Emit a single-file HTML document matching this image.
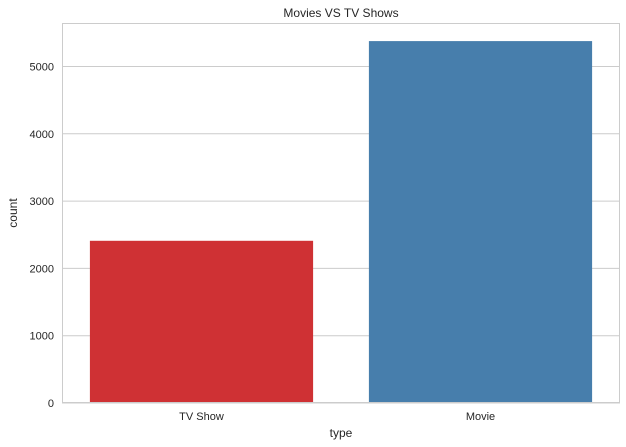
<!DOCTYPE html>
<html><head><meta charset="utf-8"><style>
html,body{margin:0;padding:0;background:#fff;}
svg{display:block;font-family:"Liberation Sans","DejaVu Sans",sans-serif;}
</style></head><body>
<svg id="chart" width="626" height="447"></svg>
<script>
const categories = ["TV Show", "Movie"];
const counts = [2410, 5377];
const colors = ["#cf3134", "#477eac"];
const yTicks = [0, 1000, 2000, 3000, 4000, 5000];

const NS = "http://www.w3.org/2000/svg";
const svg = document.getElementById("chart");
const L = 62, R = 620, T = 23, B = 403;
const yMax = Math.max(...counts) * 1.05;
const y = v => B - (v / yMax) * (B - T);
const band = (R - L) / categories.length;
const x = i => L + band * i;

function mk(tag, attrs, text) {
  const e = document.createElementNS(NS, tag);
  for (const k in attrs) e.setAttribute(k, attrs[k]);
  if (text !== undefined) e.textContent = text;
  svg.appendChild(e);
  return e;
}

yTicks.forEach(t => {
  const g = mk("line", {x1: L, x2: R, y1: y(t), y2: y(t), stroke: "#cccccc", "stroke-width": 1});
  
  
  const lb = mk("text", {x: L - 8, y: y(t) + 4, "text-anchor": "end", "font-size": 11, fill: "#262626"}, t);
  
  
});

categories.forEach((c, i) => {
  const w = band * 0.8;
  const r = mk("rect", {x: x(i) + band * 0.1, y: y(counts[i]), width: w, height: B - y(counts[i]), fill: colors[i]});
  
  
  const lb = mk("text", {x: x(i) + band / 2, y: B + 17, "text-anchor": "middle", "font-size": 11, fill: "#262626"}, c);
  
  
});

const fr = mk("rect", {x: L + 0.5, y: T + 0.5, width: R - L - 1, height: B - T - 1, fill: "none", stroke: "#cccccc", "stroke-width": 1});



const tt = mk("text", {x: (L + R) / 2, y: 17, "text-anchor": "middle", "font-size": 12, fill: "#262626"}, "Movies VS TV Shows");


const xt = mk("text", {x: (L + R) / 2, y: 437, "text-anchor": "middle", "font-size": 12, fill: "#262626"}, "type");


const yt = mk("text", {x: 17, y: (T + B) / 2, "text-anchor": "middle", "font-size": 12, fill: "#262626", transform: "rotate(-90 17 " + (T + B) / 2 + ")"}, "count");


</script>
</body></html>
